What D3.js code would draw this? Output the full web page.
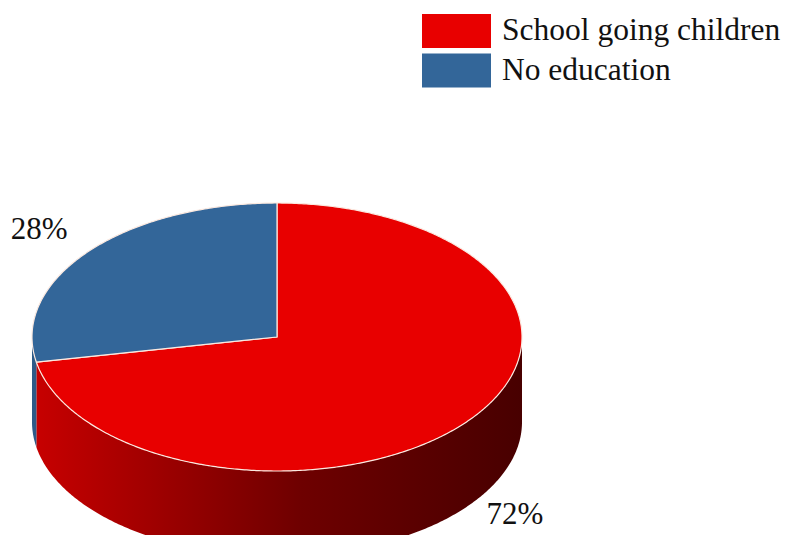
<!DOCTYPE html>
<html>
<head>
<meta charset="utf-8">
<script src="https://cdn.jsdelivr.net/npm/d3@7"></script>
<style>
  body { margin: 0; background: #fff; }
  svg { display: block; }
</style>
</head>
<body>
<svg id="chart" width="787" height="535"></svg>
<script>
// data
const categories = ['School going children', 'No education'];
const shares = [72, 28];
const colors = ['#e80000', '#336699'];
const sideColors = [['#c80000', '#480000'], ['#2d5a88', '#1f4066']];

const width = 787, height = 535;
const cx = 277, cy = 337;   // centre of the top face
const rx = 245, ry = 134;   // ellipse radii
const depth = 85;           // height of the cylinder
const fontFamily = "'Liberation Serif'";

const svg = d3.select('#chart').style('font-family', fontFamily);
const defs = svg.append('defs');

// horizontal gradients for the outer walls
sideColors.forEach((c, i) => {
  const g = defs.append('linearGradient')
    .attr('id', 'side' + i)
    .attr('gradientUnits', 'userSpaceOnUse')
    .attr('x1', cx - rx).attr('x2', cx + rx)
    .attr('y1', 0).attr('y2', 0);
  g.append('stop').attr('offset', '0%').attr('stop-color', c[0]);
  g.append('stop').attr('offset', '55%').attr('stop-color', d3.interpolateRgb(c[0], c[1])(0.7));
  g.append('stop').attr('offset', '100%').attr('stop-color', c[1]);
});

const pie = d3.pie().sort(null).value(d => d);
const arcs = pie(shares);

// angle 0 = 12 o'clock, clockwise
function pt(a, dy) {
  return [cx + rx * Math.sin(a), cy - ry * Math.cos(a) + (dy || 0)];
}

function arcPoints(a0, a1, dy) {
  const n = Math.max(2, Math.ceil(Math.abs(a1 - a0) / 0.01));
  return d3.range(n + 1).map(i => pt(a0 + (a1 - a0) * i / n, dy));
}

const line = d3.line();

// outer walls: only the front half (between 90deg and 270deg) is visible
const front0 = Math.PI / 2, front1 = Math.PI * 3 / 2;
arcs.forEach((d, i) => {
  const a0 = Math.max(d.startAngle, front0);
  const a1 = Math.min(d.endAngle, front1);
  if(a1 <= a0) return;
  const top = arcPoints(a0, a1, 0);
  const bottom = arcPoints(a1, a0, depth);
  svg.append('path')
    .attr('d', line(top.concat(bottom)) + 'Z')
    .attr('fill', 'url(#side' + i + ')');
});

// top faces
arcs.forEach((d, i) => {
  const pts = [[cx, cy]].concat(arcPoints(d.startAngle, d.endAngle, 0));
  svg.append('path')
    .attr('d', line(pts) + 'Z')
    .attr('fill', colors[i])
    .attr('stroke', '#fbe9e0')
    .attr('stroke-width', 1.2)
    .attr('stroke-linejoin', 'round');
});

// percentage labels
arcs.forEach((d, i) => {
  const mid = (d.startAngle + d.endAngle) / 2;
  const s = Math.sin(mid), c = Math.cos(mid);
  const x = cx + s * rx * 1.26;
  const y = cy - c * ry * 1.27 + (c < 0 ? depth * 0.8 : 0);
  svg.append('text')
    .attr('x', x).attr('y', y)
    .attr('dy', '0.35em')
    .attr('text-anchor', 'middle')
    .style('font-family', fontFamily)
    .attr('font-size', 31)
    .attr('fill', '#111')
    .text(d3.format('.0%')(d.data / d3.sum(shares)));
});

// legend
const legend = svg.append('g').attr('transform', 'translate(422,14)');
categories.forEach((name, i) => {
  const row = legend.append('g').attr('transform', 'translate(0,' + i * 39.5 + ')');
  row.append('rect')
    .attr('width', 69).attr('height', 34)
    .attr('fill', colors[i]);
  row.append('text')
    .attr('x', 80).attr('y', 26)
    .style('font-family', fontFamily)
    .attr('font-size', 31.5)
    .attr('fill', '#111')
    .text(name);
});
</script>
</body>
</html>
